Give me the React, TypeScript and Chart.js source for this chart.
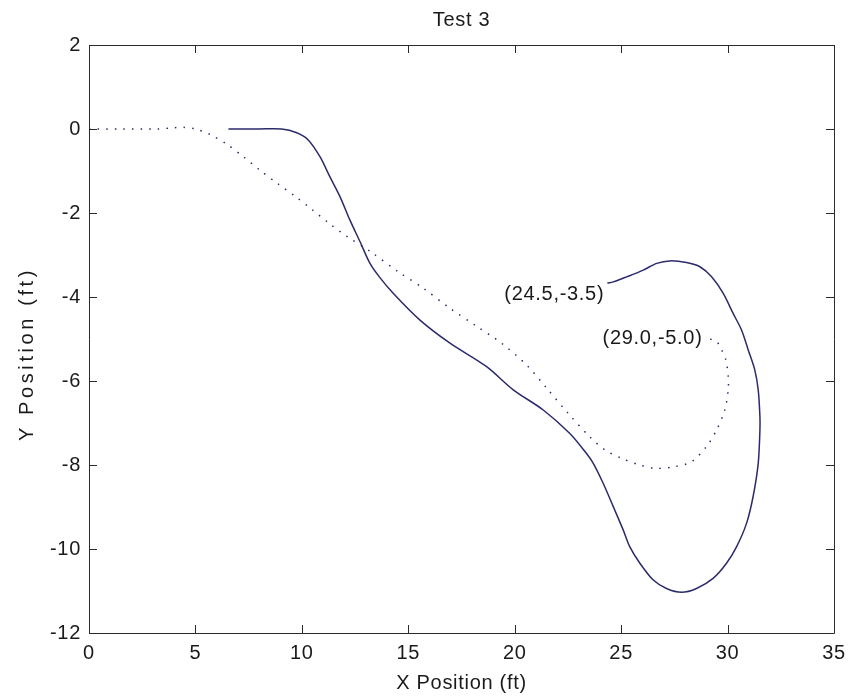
import React, { useEffect, useRef } from "react";
import { Chart, registerables } from "chart.js";

Chart.register(...registerables);

const titleText = "Test 3";
const xTitle = "X Position (ft)";
const yTitle = "Y Position (ft)";
const xTicks = [0, 5, 10, 15, 20, 25, 30, 35];
const yTicks = [-12, -10, -8, -6, -4, -2, 0, 2];

// Solid (actual path)
const solidX = [6.55, 8.0, 9.05, 9.76, 10.3, 10.85, 11.32, 11.79, 12.26, 12.73, 13.2, 13.64, 14.29, 15.55, 16.96, 18.68, 19.93, 21.34, 22.59, 23.3, 23.69, 24.16, 24.63, 25.1, 25.41, 25.88, 26.51, 27.13, 27.84, 28.54, 29.32, 29.95, 30.42, 30.89, 31.2, 31.44, 31.52, 31.52, 31.44, 31.28, 30.97, 30.66, 30.26, 29.79, 29.25, 28.7, 28.07, 27.29, 26.67, 26.04, 25.26, 24.63, 24.35];
const solidY = [0, 0, 0, -0.09, -0.26, -0.66, -1.14, -1.61, -2.17, -2.68, -3.2, -3.52, -3.91, -4.55, -5.1, -5.66, -6.21, -6.69, -7.25, -7.68, -7.96, -8.44, -8.99, -9.55, -9.95, -10.34, -10.74, -10.94, -11.03, -10.94, -10.7, -10.34, -9.95, -9.39, -8.75, -7.96, -7.17, -6.85, -6.21, -5.74, -5.26, -4.79, -4.39, -3.91, -3.52, -3.28, -3.18, -3.14, -3.2, -3.36, -3.52, -3.64, -3.67];

// Dotted (planned path)
const dottedX = [0, 1.5, 3.2, 4.0, 4.45, 5.0, 5.68, 6.47, 7.25, 8.03, 8.89, 9.68, 10.46, 11.29, 12.1, 13.28, 14.53, 15.7, 16.96, 18.13, 19.38, 20.56, 21.5, 22.51, 23.53, 24.24, 25.02, 25.88, 26.67, 27.52, 28.31, 29.01, 29.48, 29.87, 30.03, 30.03, 29.92, 29.72, 29.48, 29.01];
const dottedY = [0, 0, 0, 0.03, 0.04, 0.0, -0.13, -0.36, -0.66, -0.98, -1.31, -1.6, -1.91, -2.25, -2.55, -2.94, -3.4, -3.79, -4.27, -4.67, -5.1, -5.62, -6.17, -6.77, -7.33, -7.64, -7.84, -8.0, -8.08, -8.04, -7.92, -7.56, -7.17, -6.69, -6.21, -5.9, -5.5, -5.26, -5.06, -4.98];

const endLabels = ["(24.5,-3.5)", "(29.0,-5.0)"];

const FONT = "'Liberation Sans', Arial, sans-serif";
const FS = 20;
const LS = "0.7px";
const TEXT = "#1a1a1a";
const AXIS = "#2a2a2a";
const LINE = "#2b2b6b";

const spacingPlugin = {
  id: "spacing",
  beforeUpdate(chart: any) {
    chart.ctx.letterSpacing = LS;
  },
  beforeDraw(chart: any) {
    chart.ctx.letterSpacing = LS;
  },
};

const boxPlugin = {
  id: "matlabBox",
  afterDraw(chart: any) {
    const { ctx, chartArea, scales } = chart;
    const { left, right, top, bottom } = chartArea;
    const xs = scales.x;
    const ys = scales.y;
    ctx.save();
    ctx.strokeStyle = AXIS;
    ctx.lineWidth = 1;
    ctx.beginPath();
    ctx.rect(Math.round(left) + 0.5, Math.round(top) + 0.5, Math.round(right - left), Math.round(bottom - top));
    ctx.stroke();
    const tl = 8;
    ctx.beginPath();
    xTicks.forEach((v) => {
      const px = Math.round(xs.getPixelForValue(v)) + 0.5;
      ctx.moveTo(px, bottom);
      ctx.lineTo(px, bottom - tl);
      ctx.moveTo(px, top);
      ctx.lineTo(px, top + tl);
    });
    yTicks.forEach((v) => {
      const py = Math.round(ys.getPixelForValue(v)) + 0.5;
      ctx.moveTo(left, py);
      ctx.lineTo(left + tl, py);
      ctx.moveTo(right, py);
      ctx.lineTo(right - tl, py);
    });
    ctx.stroke();

    // end-point annotations
    ctx.fillStyle = TEXT;
    ctx.font = `${FS}px ${FONT}`;
    ctx.textAlign = "right";
    ctx.textBaseline = "middle";
    const offsets = [
      [-3, 11],
      [-4, 0],
    ];
    chart.data.datasets.forEach((ds: any, i: number) => {
      const last = ds.data[ds.data.length - 1];
      const px = xs.getPixelForValue(last.x);
      const py = ys.getPixelForValue(last.y);
      ctx.fillText(endLabels[i], px + offsets[i][0], py + offsets[i][1]);
    });
    ctx.restore();
  },
};

function wideTitle(s: any) {
  if (s.__wide) return;
  s.__wide = true;
  const orig = s.drawTitle.bind(s);
  s.drawTitle = function () {
    const ctx = s.ctx;
    ctx.save();
    ctx.letterSpacing = "3.6px";
    ctx.translate(0, 15);
    orig();
    ctx.restore();
  };
}

export default function App() {
  const ref = useRef<HTMLCanvasElement>(null);
  useEffect(() => {
    if (!ref.current) return;
    Chart.defaults.font.family = FONT;
    Chart.defaults.color = TEXT;
    const chart = new Chart(ref.current, {
      type: "line",
      data: {
        datasets: [
          {
            label: "actual",
            data: solidX.map((x, i) => ({ x, y: solidY[i] })),
            borderColor: LINE,
            borderWidth: 1.5,
            pointRadius: 0,
            tension: 0.3,
            fill: false,
          },
          {
            label: "planned",
            data: dottedX.map((x, i) => ({ x, y: dottedY[i] })),
            borderColor: LINE,
            borderWidth: 1.5,
            borderDash: [1.5, 7.1],
            pointRadius: 0,
            tension: 0.3,
            fill: false,
          },
        ],
      },
      options: {
        animation: false,
        responsive: false,
        layout: { padding: { left: 0, right: 14, top: 0, bottom: 0 } },
        plugins: {
          legend: { display: false },
          tooltip: { enabled: false },
          title: { display: false },
        },
        scales: {
          x: {
            type: "linear",
            min: 0,
            max: 35,
            grid: { display: false, drawTicks: false },
            border: { display: false },
            afterBuildTicks: (s: any) => {
              s.ticks = xTicks.map((v) => ({ value: v }));
            },
            afterFit: (s: any) => {
              s.height = 65;
              s.paddingLeft = 0;
              s.paddingRight = 0;
            },
            ticks: { font: { size: FS }, color: TEXT, padding: 8, maxRotation: 0 },
            title: { display: true, text: xTitle, color: TEXT, font: { size: FS }, padding: { top: 0, bottom: 3 } },
          },
          x2: {
            type: "linear",
            position: "top",
            min: 0,
            max: 35,
            grid: { display: false, drawTicks: false },
            border: { display: false },
            ticks: { display: false },
            afterFit: (s: any) => {
              s.height = 45;
              s.paddingLeft = 0;
              s.paddingRight = 0;
            },
            title: { display: true, text: titleText, color: TEXT, font: { size: FS }, padding: { top: 8, bottom: 0 } },
          },
          y: {
            type: "linear",
            min: -12,
            max: 2,
            grid: { display: false, drawTicks: false },
            border: { display: false },
            afterBuildTicks: (s: any) => {
              s.ticks = yTicks.map((v) => ({ value: v }));
            },
            afterFit: (s: any) => {
              s.width = 89;
              s.paddingTop = 0;
              s.paddingBottom = 0;
              wideTitle(s);
            },
            ticks: { font: { size: FS }, color: TEXT, padding: 8 },
            title: { display: true, text: yTitle, color: TEXT, font: { size: FS }, padding: { top: 15, bottom: 0 } },
          },
        },
      },
      plugins: [spacingPlugin, boxPlugin],
    } as any);
    return () => chart.destroy();
  }, []);
  return (
    <div style={{ position: "fixed", left: 0, top: 0, width: 848, height: 698, background: "#fff" }}>
      <canvas ref={ref} width={848} height={698} />
    </div>
  );
}
